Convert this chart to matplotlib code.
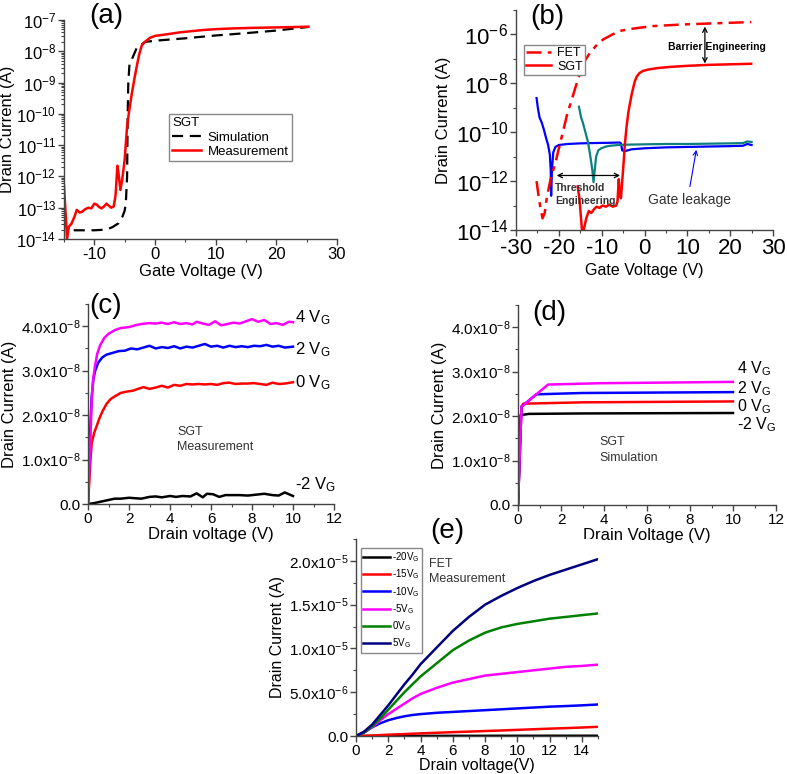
import numpy as np
import matplotlib
matplotlib.use("Agg")
import matplotlib.pyplot as plt
from matplotlib.ticker import LogLocator, MultipleLocator, FuncFormatter, NullFormatter

plt.rcParams['font.family'] = ['Liberation Sans', 'DejaVu Sans']
plt.rcParams['mathtext.fontset'] = 'custom'
plt.rcParams['mathtext.rm'] = 'Liberation Sans'
plt.rcParams['mathtext.it'] = 'Liberation Sans:italic'
plt.rcParams['mathtext.bf'] = 'Liberation Sans:bold'
plt.rcParams['axes.unicode_minus'] = False

# ---- (a) SGT transfer: simulation vs measurement
a_sim_v = [-13.4, -10, -8, -7, -6, -5.4, -5.0, -4.8, -4.6, -4.5, -4.4, -4.2, -3.8, -3.0, -1.6,
           0.3, 5, 10, 15, 20, 25.3]
a_sim_i = [1.9e-14, 1.9e-14, 2.0e-14, 2.4e-14, 3.2e-14, 5.0e-14, 8e-14, 1.5e-13, 1e-12, 1e-10,
           1e-9, 4e-9, 5.6e-9, 1.3e-8, 2e-8, 2.2e-8, 2.6e-8, 3.2e-8, 3.8e-8, 4.6e-8, 6e-8]
a_meas_v = [-15.0, -14.7, -14.5, -14.2, -13.8, -13.3, -12.9, -12.4, -12.0, -11.5, -11.0, -10.5,
            -10.0, -9.6, -9.2, -8.8, -8.4, -8.0, -7.6, -7.2, -6.8, -6.5, -6.2, -6.0, -5.7, -5.4,
            -5.0, -4.6, -4.2, -3.8, -3.4, -3.0, -2.6, -2.2, -1.8, -1.4, -0.8, 0, 2, 4, 6, 8, 10,
            13, 16, 20, 25.3]
a_meas_i = [5e-13, 5e-14, 1e-14, 2.5e-14, 3e-14, 5e-14, 8.5e-14, 7e-14, 7.5e-14, 9e-14, 1e-13,
            9.5e-14, 1.35e-13, 1.25e-13, 1.05e-13, 9.5e-14, 1.1e-13, 1.35e-13, 1.15e-13, 1e-13,
            1.1e-13, 2.5e-13, 2.2e-12, 1.2e-12, 3.7e-13, 8e-13, 3.4e-12, 4e-11, 1.5e-10, 4.7e-10,
            1.3e-9, 3.4e-9, 8e-9, 1.5e-8, 1.9e-8, 2.2e-8, 2.7e-8, 3.1e-8, 3.5e-8, 4e-8, 4.4e-8,
            4.8e-8, 5.1e-8, 5.4e-8, 5.6e-8, 5.8e-8, 6.1e-8]

# ---- (b) FET vs SGT transfer + gate leakage
b_fet_v = [-25.2, -24.8, -24.3, -23.8, -23.3, -22.8, -21.8, -20.8, -19.8, -18.9, -18, -17, -16,
           -15, -14, -12.7, -11, -9.6, -7.5, -5.7, -3, -1, 2, 6, 10, 15, 20, 24.9]
b_fet_i = [1e-12, 3e-13, 8e-14, 3e-14, 5e-14, 2.2e-13, 1.5e-12, 5.6e-12, 3e-11, 1.3e-10, 6e-10,
           2.1e-9, 8e-9, 2.8e-8, 8e-8, 1.8e-7, 4e-7, 6.3e-7, 1e-6, 1.4e-6, 1.7e-6, 1.9e-6, 2.2e-6,
           2.4e-6, 2.6e-6, 2.8e-6, 3e-6, 3.2e-6]
b_sgt_v = [-15.6, -15.2, -14.6, -14.2, -13.6, -13.0, -12.4, -11.8, -11.2, -10.5, -9.8, -9.0,
           -8.2, -7.4, -6.6, -6.3, -6.0, -5.8, -5.5, -5.2, -4.9, -4.6, -4.2, -3.8, -3.4, -3.0,
           -2.6, -2.2, -1.8, -1.2, -0.4, 1, 3, 6, 10, 15, 20, 24.9]
b_sgt_i = [6e-13, 2e-13, 1e-14, 1e-14, 3e-14, 6e-14, 5e-14, 7e-14, 9e-14, 8e-14, 1e-13, 9e-14,
           1.1e-13, 9e-14, 1e-13, 1.5e-13, 1.2e-12, 3e-13, 2e-13, 1e-12, 5e-12, 3e-11, 1.6e-10,
           6e-10, 1.5e-9, 3.5e-9, 7e-9, 1.3e-8, 1.9e-8, 2.6e-8, 3.2e-8, 3.7e-8, 4.2e-8, 4.7e-8,
           5.2e-8, 5.7e-8, 6.0e-8, 6.3e-8]
b_leak1_v = [-25.2, -24.9, -24.5, -24.0, -23.5, -23.0, -22.5, -22.1, -21.9, -21.8, -21.6, -21.3,
             -20.8, -20.0, -18, -15, -12, -8, -5.8, -5.5, -5.2, -4.5, -3, 0, 5, 10, 15, 20, 23,
             24, 25]
b_leak1_i = [2.5e-9, 1e-9, 4e-10, 2.5e-10, 1.3e-10, 6e-11, 3e-11, 1.2e-11, 3e-12, 2.5e-13,
             3e-12, 1.5e-11, 2.5e-11, 3e-11, 3.3e-11, 3.5e-11, 3.6e-11, 3.7e-11, 3.8e-11, 3.5e-11,
             1.8e-11, 1.7e-11, 2e-11, 2.2e-11, 2.4e-11, 2.5e-11, 2.6e-11, 2.7e-11, 2.8e-11,
             3.3e-11, 3e-11]
b_leak2_v = [-15.3, -14.8, -14.4, -13.8, -13.2, -12.7, -12.2, -11.9, -11.6, -11.3, -10.8, -10.1,
             -9, -8, -6, -4, 0, 5, 10, 15, 20, 23, 24, 25]
b_leak2_i = [1.1e-9, 4e-10, 2.5e-10, 1e-10, 4e-11, 1.2e-11, 3e-12, 9e-13, 3e-12, 1e-11, 1.8e-11,
             2.2e-11, 2.6e-11, 2.8e-11, 3e-11, 3.1e-11, 3.2e-11, 3.3e-11, 3.3e-11, 3.4e-11,
             3.5e-11, 3.6e-11, 4.2e-11, 4e-11]

# ---- (c) SGT output, measurement
c_4_v = [0, 0.1, 0.18, 0.25, 0.34, 0.45, 0.6, 0.8, 1.0, 1.3, 1.6, 2.0, 2.3, 2.6, 3.0, 3.3, 3.6,
         3.9, 4.2, 4.5, 4.8, 5.1, 5.3, 5.6, 5.9, 6.2, 6.5, 6.8, 7.1, 7.4, 7.7, 8.0, 8.3, 8.6, 8.9,
         9.2, 9.5, 9.8, 10.0]
c_4_i = [0, 1.2e-8, 2.35e-8, 2.8e-8, 3.1e-8, 3.38e-8, 3.58e-8, 3.74e-8, 3.83e-8, 3.91e-8,
         3.96e-8, 3.98e-8, 4.02e-8, 4.05e-8, 4.07e-8, 4.06e-8, 4.08e-8, 4.05e-8, 4.09e-8, 4.05e-8,
         4.07e-8, 4.04e-8, 4.1e-8, 4.06e-8, 4.03e-8, 4.11e-8, 4.02e-8, 4.05e-8, 4.08e-8, 4.06e-8,
         4.11e-8, 4.16e-8, 4.1e-8, 4.14e-8, 4.05e-8, 4.07e-8, 4.03e-8, 4.1e-8, 4.09e-8]
c_2_v = [0, 0.1, 0.18, 0.26, 0.35, 0.5, 0.7, 0.9, 1.2, 1.5, 1.8, 2.1, 2.4, 2.7, 3.0, 3.3, 3.6,
         3.9, 4.2, 4.5, 4.8, 5.1, 5.4, 5.7, 6.0, 6.3, 6.6, 6.9, 7.2, 7.5, 7.8, 8.1, 8.4, 8.7, 9.0,
         9.3, 9.6, 10.0]
c_2_i = [0, 1.6e-8, 2.4e-8, 2.8e-8, 3.0e-8, 3.18e-8, 3.3e-8, 3.36e-8, 3.4e-8, 3.44e-8, 3.45e-8,
         3.5e-8, 3.48e-8, 3.52e-8, 3.56e-8, 3.5e-8, 3.53e-8, 3.51e-8, 3.55e-8, 3.5e-8, 3.54e-8,
         3.52e-8, 3.56e-8, 3.6e-8, 3.54e-8, 3.56e-8, 3.52e-8, 3.56e-8, 3.53e-8, 3.55e-8, 3.53e-8,
         3.56e-8, 3.55e-8, 3.58e-8, 3.54e-8, 3.56e-8, 3.52e-8, 3.54e-8]
c_0_v = [0, 0.05, 0.12, 0.18, 0.3, 0.42, 0.55, 0.7, 0.9, 1.1, 1.3, 1.6, 1.9, 2.2, 2.5, 2.7, 3.0,
         3.3, 3.6, 3.9, 4.2, 4.5, 4.8, 5.1, 5.4, 5.7, 6.0, 6.3, 6.6, 6.9, 7.2, 7.5, 7.8, 8.1, 8.4,
         8.7, 9.0, 9.3, 9.6, 10.0]
c_0_i = [0, 4e-9, 1e-8, 1.37e-8, 1.6e-8, 1.75e-8, 1.92e-8, 2.08e-8, 2.25e-8, 2.36e-8, 2.42e-8,
         2.5e-8, 2.53e-8, 2.55e-8, 2.6e-8, 2.63e-8, 2.59e-8, 2.62e-8, 2.66e-8, 2.62e-8, 2.68e-8,
         2.66e-8, 2.7e-8, 2.69e-8, 2.7e-8, 2.69e-8, 2.7e-8, 2.68e-8, 2.72e-8, 2.73e-8, 2.7e-8,
         2.71e-8, 2.71e-8, 2.72e-8, 2.7e-8, 2.68e-8, 2.73e-8, 2.7e-8, 2.71e-8, 2.74e-8]
c_m2_v = [0, 0.3, 0.6, 1.0, 1.3, 1.6, 2.0, 2.3, 2.6, 3.0, 3.3, 3.6, 4.0, 4.3, 4.6, 5.0, 5.3, 5.6,
          5.8, 6.1, 6.4, 6.7, 7.0, 7.4, 7.8, 8.2, 8.6, 9.0, 9.3, 9.6, 10]
c_m2_i = [0, 2e-10, 5e-10, 9e-10, 1.2e-9, 1.2e-9, 1.4e-9, 1.3e-9, 1.2e-9, 1.6e-9, 1.7e-9, 1.5e-9,
          1.8e-9, 1.6e-9, 1.8e-9, 1.7e-9, 2.4e-9, 1.5e-9, 2.3e-9, 2.2e-9, 1.6e-9, 2.0e-9, 2.0e-9,
          2.0e-9, 1.9e-9, 2.1e-9, 2.3e-9, 2.0e-9, 1.9e-9, 2.6e-9, 1.8e-9]

# ---- (d) SGT output, simulation
d_4_v = [0, 0.16, 1.4, 3.8, 10]
d_4_i = [0, 2.21e-8, 2.71e-8, 2.74e-8, 2.77e-8]
d_2_v = [0, 0.16, 0.85, 3, 10]
d_2_i = [0, 2.21e-8, 2.49e-8, 2.52e-8, 2.54e-8]
d_0_v = [0, 0.16, 0.25, 3, 10]
d_0_i = [0, 2.21e-8, 2.28e-8, 2.31e-8, 2.33e-8]
d_m2_v = [0, 0.12, 0.5, 3, 10]
d_m2_i = [0, 2.02e-8, 2.05e-8, 2.06e-8, 2.07e-8]

# ---- (e) FET output, measurement (current in uA)
e_v = [0, 0.5, 1, 1.5, 2, 2.5, 3, 3.5, 4, 5, 6, 7, 8, 9, 10, 11, 12, 13, 14, 15]
e_5 = [0, 0.5, 1.3, 2.4, 3.5, 4.7, 5.9, 7.0, 8.2, 10.1, 12.0, 13.6, 15.0, 16.0, 16.9, 17.7, 18.4,
       19.0, 19.6, 20.2]
e_0 = [0, 0.4, 1.1, 2.0, 3.0, 4.0, 5.0, 5.9, 6.8, 8.3, 9.8, 10.9, 11.8, 12.4, 12.8, 13.1, 13.4,
       13.6, 13.8, 14.0]
e_m5 = [0, 0.4, 1.0, 1.8, 2.5, 3.1, 3.7, 4.3, 4.8, 5.5, 6.1, 6.5, 6.9, 7.1, 7.3, 7.5, 7.7, 7.9,
        8.0, 8.15]
e_m10 = [0, 0.4, 1.0, 1.45, 1.8, 2.05, 2.25, 2.4, 2.5, 2.65, 2.75, 2.85, 2.95, 3.05, 3.15, 3.25,
         3.35, 3.42, 3.5, 3.6]
e_m15 = [0, 0.02, 0.05, 0.1, 0.15, 0.18, 0.22, 0.26, 0.3, 0.37, 0.44, 0.5, 0.57, 0.63, 0.7, 0.77,
         0.84, 0.9, 0.97, 1.05]
e_m20 = [0, 0, 0.005, 0.005, 0.01, 0.01, 0.01, 0.01, 0.015, 0.015, 0.02, 0.02, 0.02, 0.025, 0.025,
         0.025, 0.03, 0.03, 0.03, 0.03]
e_labels = ['-20V$_\\mathrm{G}$', '-15V$_\\mathrm{G}$', '-10V$_\\mathrm{G}$',
            '-5V$_\\mathrm{G}$', '0V$_\\mathrm{G}$', '5V$_\\mathrm{G}$']
e_colors = ['black', '#ff0000', '#0000ff', '#ff00ff', '#008000', '#000080']

W, H = 787, 774
fig = plt.figure(figsize=(W / 100, H / 100), dpi=100)


def box(l, r, t, b):
    return [l / W, 1 - b / H, (r - l) / W, (b - t) / H]


def style(ax, fs):
    for s in ['top', 'right']:
        ax.spines[s].set_visible(False)
    for s in ['left', 'bottom']:
        ax.spines[s].set_color('#444444')
        ax.spines[s].set_linewidth(1.0)
    ax.tick_params(which='major', direction='out', length=4, width=1, color='#444444',
                   labelsize=fs, pad=1.5)
    ax.tick_params(which='minor', direction='out', length=2.5, width=0.8, color='#444444')


def sci(exp):
    def f(v, pos):
        if abs(v) < 1e-30:
            return '0.0'
        return '%.1fx10$^{%d}$' % (v / 10 ** exp, exp)
    return FuncFormatter(f)


lw = 1.8
G = '$_\\mathrm{G}$'

# (a)
ax = fig.add_axes(box(64, 337, 20, 239))
ax.plot(a_sim_v, a_sim_i, color='black', ls=(0, (5, 3)), lw=1.6, label='Simulation')
ax.plot(a_meas_v, a_meas_i, color='#ff0000', lw=lw, label='Measurement')
ax.set_yscale('log')
ax.set_xlim(-15, 30)
ax.set_ylim(1e-14, 1e-7)
ax.yaxis.set_major_locator(LogLocator(base=10, numticks=20))
ax.yaxis.set_minor_locator(LogLocator(base=10, subs=np.arange(2, 10), numticks=20))
ax.yaxis.set_minor_formatter(NullFormatter())
ax.xaxis.set_major_locator(MultipleLocator(10))
ax.xaxis.set_minor_locator(MultipleLocator(5))
style(ax, 12)
ax.set_xlabel('Gate Voltage (V)', fontsize=12, labelpad=2)
ax.set_ylabel('Drain Current (A)', fontsize=12, labelpad=1)
ax.legend(title='SGT', alignment='left', loc='upper left', bbox_to_anchor=(0.36, 0.6),
          fontsize=9.5, title_fontsize=9.5, handlelength=2.2, handletextpad=0.5,
          fancybox=False, edgecolor='#888888', framealpha=1, borderpad=0.25,
          labelspacing=0.15)

# (b)
ax = fig.add_axes(box(516, 773, 10, 230))
ax.plot(b_leak1_v, b_leak1_i, color='#0000ff', lw=1.6)
ax.plot(b_leak2_v, b_leak2_i, color='#0f7f7f', lw=1.6)
ax.plot(b_fet_v, b_fet_i, color='#ff0000', lw=lw, ls=(0, (6, 2.5, 2, 2.5)), label='FET')
ax.plot(b_sgt_v, b_sgt_i, color='#ff0000', lw=lw, label='SGT')
ax.set_yscale('log')
ax.set_xlim(-30, 30)
ax.set_ylim(1e-14, 1e-5)
ax.set_yticks([1e-14, 1e-12, 1e-10, 1e-8, 1e-6])
ax.set_yticks([1e-13, 1e-11, 1e-9, 1e-7, 1e-5], minor=True)
ax.yaxis.set_minor_formatter(NullFormatter())
ax.xaxis.set_major_locator(MultipleLocator(10))
ax.xaxis.set_minor_locator(MultipleLocator(5))
style(ax, 16)
ax.set_xlabel('Gate Voltage (V)', fontsize=11.5, labelpad=3)
ax.set_ylabel('Drain Current (A)', fontsize=12, labelpad=3)
ax.legend(loc='upper left', bbox_to_anchor=(0.005, 0.87), fontsize=9, handlelength=2.0,
          handletextpad=0.5, fancybox=False, edgecolor='#888888', framealpha=1,
          borderpad=0.2, labelspacing=0.1)
ax.annotate('', xy=(14.1, 6.5e-8), xytext=(14.1, 2.1e-6),
            arrowprops=dict(arrowstyle='<->', color='black', lw=0.9, shrinkA=0, shrinkB=0,
                            mutation_scale=8))
ax.text(5.5, 3.2e-7, 'Barrier Engineering', fontsize=7.5, fontweight='bold', ha='left',
        va='center')
ax.annotate('', xy=(-5.7, 1.7e-12), xytext=(-20.5, 1.7e-12),
            arrowprops=dict(arrowstyle='<->', color='black', lw=0.9, shrinkA=0, shrinkB=0,
                            mutation_scale=8))
ax.text(-20.9, 2.8e-13, 'Threshold\nEngineering', fontsize=7.5, fontweight='bold', ha='left',
        va='center', color='#333333', linespacing=1.3)
ax.text(0.8, 1.7e-13, 'Gate leakage', fontsize=10, ha='left', va='center', color='#333333')
ax.annotate('', xy=(12.1, 1.9e-11), xytext=(10.6, 6e-13),
            arrowprops=dict(arrowstyle='->', color='#0000ff', lw=0.8, shrinkA=0, shrinkB=0,
                            mutation_scale=8))

# (c)
ax = fig.add_axes(box(88, 334, 304, 504))
ax.plot(c_m2_v, c_m2_i, color='black', lw=lw)
ax.plot(c_0_v, c_0_i, color='#ff0000', lw=lw)
ax.plot(c_2_v, c_2_i, color='#0000ff', lw=lw)
ax.plot(c_4_v, c_4_i, color='#ff00ff', lw=lw)
ax.set_xlim(0, 12)
ax.set_ylim(0, 4.5e-8)
ax.xaxis.set_major_locator(MultipleLocator(2))
ax.xaxis.set_minor_locator(MultipleLocator(1))
ax.yaxis.set_major_locator(MultipleLocator(1e-8))
ax.yaxis.set_minor_locator(MultipleLocator(0.5e-8))
ax.yaxis.set_major_formatter(sci(-8))
style(ax, 11)
ax.set_xlabel('Drain voltage (V)', fontsize=12, labelpad=1)
ax.set_ylabel('Drain Current (A)', fontsize=12, labelpad=3)
for txt, y in [('4 V' + G, 4.2e-8), ('2 V' + G, 3.48e-8), ('0 V' + G, 2.73e-8),
               ('-2 V' + G, 0.43e-8)]:
    ax.text(10.1, y, txt, fontsize=12, ha='left', va='center', clip_on=False)
ax.text(4.34, 1.45e-8, 'SGT\nMeasurement', fontsize=9, ha='left', va='center',
        color='#333333', linespacing=1.4)

# (d)
ax = fig.add_axes(box(518, 776, 305, 505))
ax.plot(d_m2_v, d_m2_i, color='black', lw=lw)
ax.plot(d_0_v, d_0_i, color='#ff0000', lw=lw)
ax.plot(d_2_v, d_2_i, color='#0000ff', lw=lw)
ax.plot(d_4_v, d_4_i, color='#ff00ff', lw=lw)
ax.set_xlim(0, 12)
ax.set_ylim(0, 4.5e-8)
ax.xaxis.set_major_locator(MultipleLocator(2))
ax.xaxis.set_minor_locator(MultipleLocator(1))
ax.yaxis.set_major_locator(MultipleLocator(1e-8))
ax.yaxis.set_minor_locator(MultipleLocator(0.5e-8))
ax.yaxis.set_major_formatter(sci(-8))
style(ax, 11)
ax.set_xlabel('Drain Voltage (V)', fontsize=12, labelpad=1)
ax.set_ylabel('Drain Current (A)', fontsize=12, labelpad=3)
for txt, y in [('4 V' + G, 3.07e-8), ('2 V' + G, 2.62e-8), ('0 V' + G, 2.22e-8),
               ('-2 V' + G, 1.8e-8)]:
    ax.text(10.2, y, txt, fontsize=11.5, ha='left', va='center', clip_on=False)
ax.text(3.8, 1.24e-8, 'SGT\nSimulation', fontsize=9, ha='left', va='center',
        color='#333333', linespacing=1.4)

# (e)
ax = fig.add_axes(box(356, 598, 539, 736))
for vals, lab, col in zip([e_m20, e_m15, e_m10, e_m5, e_0, e_5], e_labels, e_colors):
    ax.plot(e_v, np.array(vals) * 1e-6, color=col, lw=lw, label=lab)
ax.set_xlim(0, 15)
ax.set_ylim(0, 2.25e-5)
ax.xaxis.set_major_locator(MultipleLocator(2))
ax.xaxis.set_minor_locator(MultipleLocator(1))
ax.yaxis.set_major_locator(MultipleLocator(5e-6))
ax.yaxis.set_minor_locator(MultipleLocator(2.5e-6))
ax.yaxis.set_major_formatter(FuncFormatter(
    lambda v, p: '0.0' if abs(v) < 1e-30 else (
        '%.1fx10$^{-5}$' % (v / 1e-5) if v >= 1e-5 else '%.1fx10$^{-6}$' % (v / 1e-6))))
style(ax, 11)
ax.set_xlabel('Drain voltage(V)', fontsize=11.5, labelpad=0)
ax.set_ylabel('Drain Current (A)', fontsize=11.5, labelpad=3)
ax.legend(loc='upper left', bbox_to_anchor=(0.02, 0.955), fontsize=7, handlelength=2.8,
          fancybox=False, edgecolor='#888888', framealpha=1, borderpad=0.25,
          labelspacing=0.35, handletextpad=0.2, borderaxespad=0)
ax.text(4.5, 18.8e-6, 'FET\nMeasurement', fontsize=9, ha='left', va='center',
        color='#333333', linespacing=1.3)

# panel letters
for lab, x, y in [('(a)', 106, 16), ('(b)', 547, 17), ('(c)', 106, 306), ('(d)', 549, 313),
                  ('(e)', 447, 531)]:
    fig.text(x / W, 1 - y / H, lab, fontsize=20, ha='center', va='center')

fig.savefig('out.png', dpi=100)
